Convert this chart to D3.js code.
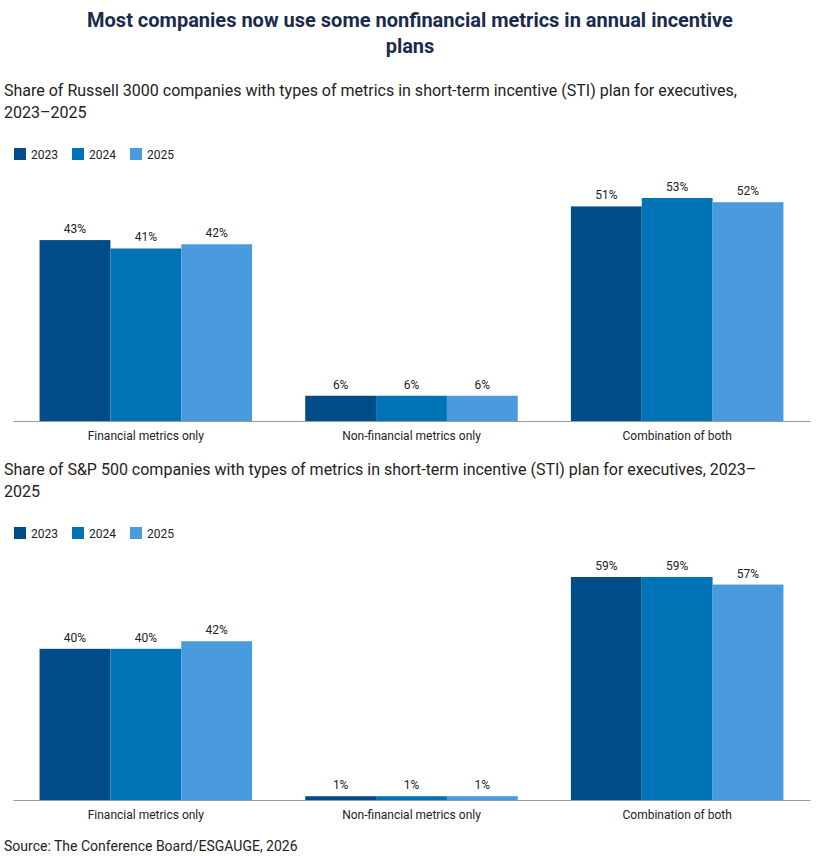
<!DOCTYPE html>
<html><head><meta charset="utf-8">
<script src="https://cdn.jsdelivr.net/npm/d3@7"></script>
<style>body{margin:0;background:#fff;font-family:Roboto,Arial,sans-serif}</style>
</head><body><svg id="c" width="821" height="856"></svg>
<script>
const categories = ["Financial metrics only","Non-financial metrics only","Combination of both"];
const years = ["2023","2024","2025"];
const colors = ["#004c89","#0072b6","#4a9ade"];
const russell = [[43,41,42],[6,6,6],[51,53,52]];
const sp500 = [[40,40,42],[1,1,1],[59,59,57]];
const svg = d3.select("#c");
svg.append("text").attr("x",410).attr("y",27).attr("text-anchor","middle").attr("font-size",20).attr("font-weight","bold").attr("fill","#1a2b4c").text("Most companies now use some nonfinancial metrics in annual incentive");
svg.append("text").attr("x",410).attr("y",53).attr("text-anchor","middle").attr("font-size",20).attr("font-weight","bold").attr("fill","#1a2b4c").text("plans");
function panel(data, sub, y0, base){
  sub.forEach((s,i)=>svg.append("text").attr("x",4).attr("y",y0+i*22).attr("font-size",16).attr("fill","#222").text(s));
  const ly = y0 + 58;
  years.forEach((yr,i)=>{
    const lx = 14 + i*58;
    svg.append("rect").attr("x",lx).attr("y",ly-6).attr("width",12).attr("height",12).attr("fill",colors[i]);
    svg.append("text").attr("x",lx+17).attr("y",ly+5).attr("font-size",12).attr("fill","#222").text(yr);
  });
  const max = d3.max(data.flat());
  const y = d3.scaleLinear().domain([0,max]).range([base, base-223]);
  const x0 = d3.scaleBand().domain(categories).range([13,810]).paddingInner(0.2).paddingOuter(0.1);
  const x1 = d3.scaleBand().domain(years).range([0,x0.bandwidth()]);
  const g = svg.append("g");
  categories.forEach((c,ci)=>{
    years.forEach((yr,yi)=>{
      const v = data[ci][yi];
      g.append("rect").attr("x",x0(c)+x1(yr)).attr("y",y(v)).attr("width",x1.bandwidth()).attr("height",base-y(v)).attr("fill",colors[yi]);
      g.append("text").attr("x",x0(c)+x1(yr)+x1.bandwidth()/2).attr("y",y(v)-7).attr("text-anchor","middle").attr("font-size",12).attr("fill","#222").text(v+"%");
    });
  });
  const ax = svg.append("g").attr("transform",`translate(0,${base})`).call(d3.axisBottom(x0).tickSize(0).tickPadding(10));
  ax.select(".domain").attr("stroke","#999");
  ax.selectAll("text").attr("font-size",12).attr("fill","#222").attr("font-family","Roboto,Arial,sans-serif");
}
panel(russell,["Share of Russell 3000 companies with types of metrics in short-term incentive (STI) plan for executives,","2023\u20132025"],96,421);
panel(sp500,["Share of S&P 500 companies with types of metrics in short-term incentive (STI) plan for executives, 2023\u2013","2025"],475,800);
svg.append("text").attr("x",4).attr("y",851).attr("font-size",14).attr("fill","#222").text("Source: The Conference Board/ESGAUGE, 2026");
</script></body></html>
